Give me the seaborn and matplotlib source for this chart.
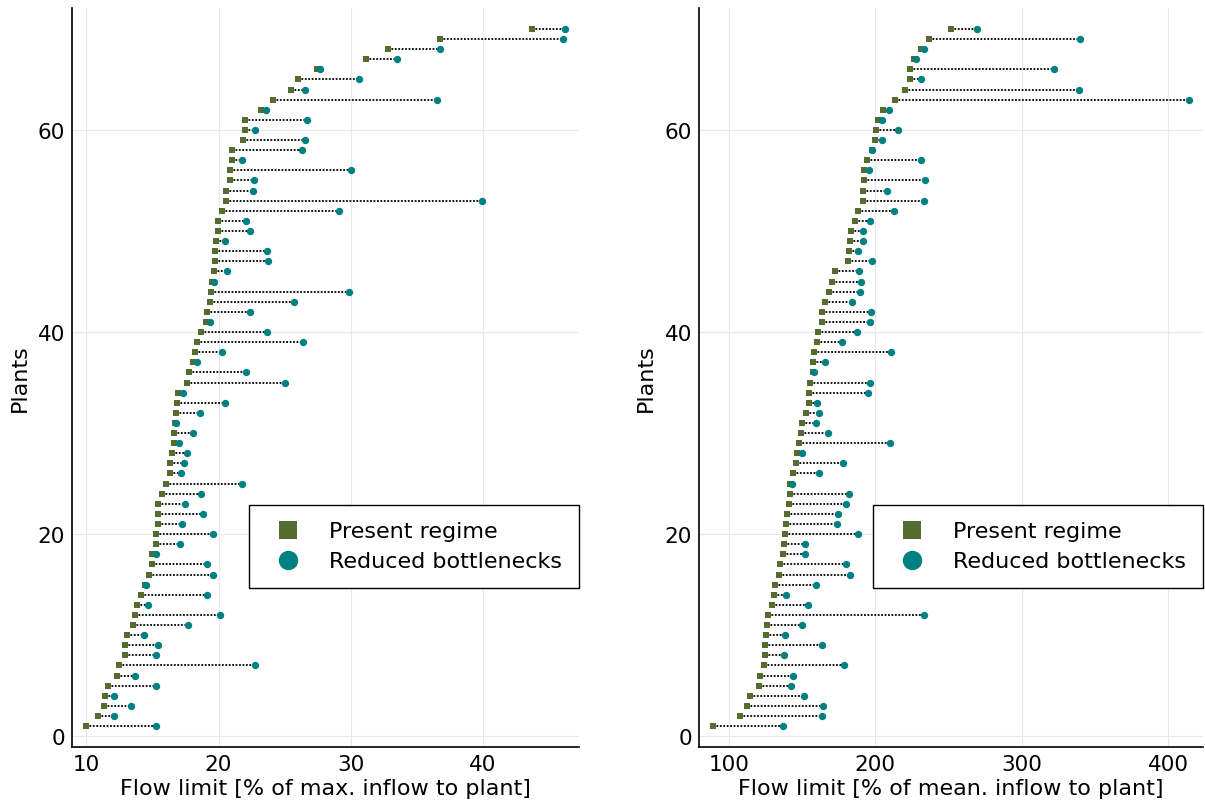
import numpy as np
import pandas as pd
import matplotlib.pyplot as plt
import seaborn as sns
from matplotlib.lines import Line2D

plants = list(range(1, 71))

# left panel: % of max. inflow to plant
max_present = [10.0, 10.9, 11.3, 11.4, 11.6, 12.35, 12.45, 12.95, 12.95, 13.05,
               13.55, 13.7, 13.8, 14.1, 14.45, 14.75, 14.95, 15.0, 15.3, 15.3,
               15.4, 15.45, 15.45, 15.7, 16.0, 16.3, 16.35, 16.45, 16.6, 16.6,
               16.7, 16.8, 16.85, 16.9, 17.65, 17.75, 18.1, 18.25, 18.35, 18.7,
               19.05, 19.15, 19.35, 19.45, 19.5, 19.65, 19.7, 19.7, 19.8, 19.95,
               19.95, 20.25, 20.6, 20.6, 20.85, 20.85, 21.05, 21.05, 21.85, 22.0,
               22.0, 23.2, 24.1, 25.45, 26.0, 27.45, 31.15, 32.8, 36.75, 43.75]
max_reduced = [15.3, 12.1, 13.4, 12.1, 15.3, 13.65, 22.75, 15.3, 15.4, 14.35,
               17.7, 20.1, 14.7, 19.15, 14.5, 19.6, 19.1, 15.3, 17.05, 19.6,
               17.25, 18.8, 17.45, 18.65, 21.75, 17.15, 17.35, 17.65, 17.0, 18.05,
               16.8, 18.6, 20.5, 17.3, 25.0, 22.1, 18.4, 20.25, 26.4, 23.65,
               19.35, 22.35, 25.7, 29.9, 19.65, 20.65, 23.75, 23.65, 20.5, 22.4,
               22.1, 29.1, 39.95, 22.6, 22.65, 30.0, 21.75, 26.35, 26.55, 22.75,
               26.7, 23.6, 36.5, 26.55, 30.6, 27.7, 33.5, 36.8, 46.1, 46.2]

# right panel: % of mean inflow to plant
mean_present = [89.3, 107.7, 112.0, 114.5, 120.6, 121.3, 124.0, 124.7, 124.7, 125.4,
                126.1, 126.8, 129.5, 130.8, 131.5, 134.2, 134.9, 137.0, 137.6, 138.3,
                139.0, 139.7, 141.0, 141.7, 141.7, 143.8, 145.8, 146.5, 147.8, 149.2,
                149.9, 152.6, 154.6, 154.6, 155.3, 157.4, 157.4, 158.3, 160.1, 160.8,
                163.7, 163.7, 165.5, 168.5, 170.5, 172.3, 181.4, 182.1, 182.8, 183.4,
                186.2, 188.2, 191.4, 191.4, 192.1, 192.1, 194.1, 197.7, 199.8, 200.5,
                201.6, 205.2, 213.4, 220.2, 223.4, 223.4, 226.3, 231.5, 236.3, 251.5]
mean_reduced = [137.2, 163.7, 164.2, 151.0, 142.2, 143.8, 178.5, 137.4, 163.3, 138.5,
                149.7, 232.9, 154.2, 139.0, 159.6, 182.5, 179.8, 151.9, 151.9, 188.0,
                173.5, 174.4, 179.8, 182.1, 142.9, 161.2, 177.8, 149.7, 210.2, 167.6,
                159.4, 161.7, 160.1, 194.8, 196.1, 158.3, 165.5, 210.4, 176.9, 187.5,
                196.1, 197.3, 183.9, 189.3, 190.2, 188.9, 197.5, 188.0, 191.4, 191.4,
                196.6, 212.7, 232.9, 207.9, 233.8, 195.7, 231.5, 198.0, 204.3, 215.2,
                204.8, 209.1, 414.1, 339.0, 231.5, 322.0, 228.1, 232.9, 339.7, 269.4]

labels = ["Present regime", "Reduced bottlenecks"]
olive = "#556b2f"
teal = "#008080"

sns.set_style("white")
plt.rcParams['font.family'] = ['DejaVu Sans']
plt.rcParams['text.color'] = 'black'
plt.rcParams['axes.labelcolor'] = 'black'
plt.rcParams['xtick.color'] = 'black'
plt.rcParams['ytick.color'] = 'black'


def dumbbell(ax, present, reduced, xlabel, xticks):
    df = pd.DataFrame({"plant": plants, "present": present, "reduced": reduced})
    ax.hlines(df["plant"], df["present"], df["reduced"], colors="black",
              linestyles=(0, (1, 0.9)), linewidth=1.3, zorder=2)
    sns.scatterplot(data=df, x="present", y="plant", marker="s", s=22,
                    color=olive, linewidth=0, ax=ax, zorder=3)
    sns.scatterplot(data=df, x="reduced", y="plant", marker="o", s=28,
                    color=teal, linewidth=0, ax=ax, zorder=4)
    ax.margins(x=0.03, y=0.03)
    ax.set_xticks(xticks)
    ax.set_yticks([0, 20, 40, 60])
    ax.grid(True, color="#e8e8e8", linewidth=0.8)
    ax.set_axisbelow(True)
    for side in ["top", "right"]:
        ax.spines[side].set_visible(False)
    for side in ["left", "bottom"]:
        ax.spines[side].set_color("black")
        ax.spines[side].set_linewidth(1.2)
    ax.tick_params(direction="in", length=4, width=1, labelsize=15.5, pad=5,
                   colors="black")
    ax.set_xlabel(xlabel, fontsize=16, labelpad=3)
    ax.set_ylabel("Plants", fontsize=16, labelpad=6)
    handles = [Line2D([], [], linestyle="none", marker="s", markersize=13,
                      color=olive, markeredgewidth=0),
               Line2D([], [], linestyle="none", marker="o", markersize=14,
                      color=teal, markeredgewidth=0)]
    leg = ax.legend(handles, labels, loc="lower right", bbox_to_anchor=(1.0, 0.215),
                    fontsize=16, frameon=True, fancybox=False, framealpha=1,
                    edgecolor="black", borderpad=0.75, handlelength=2.0,
                    handletextpad=0.85, labelspacing=0.45, borderaxespad=0)
    leg.get_frame().set_linewidth(1.0)


fig = plt.figure(figsize=(12.05, 8.03), dpi=100)
ax1 = fig.add_axes([0.0598, 0.0685, 0.4207, 0.9203])
ax2 = fig.add_axes([0.5801, 0.0685, 0.4183, 0.9203])

dumbbell(ax1, max_present, max_reduced,
         "Flow limit [% of max. inflow to plant]", [10, 20, 30, 40])
dumbbell(ax2, mean_present, mean_reduced,
         "Flow limit [% of mean. inflow to plant]", [100, 200, 300, 400])

fig.savefig("out.png", dpi=100)
